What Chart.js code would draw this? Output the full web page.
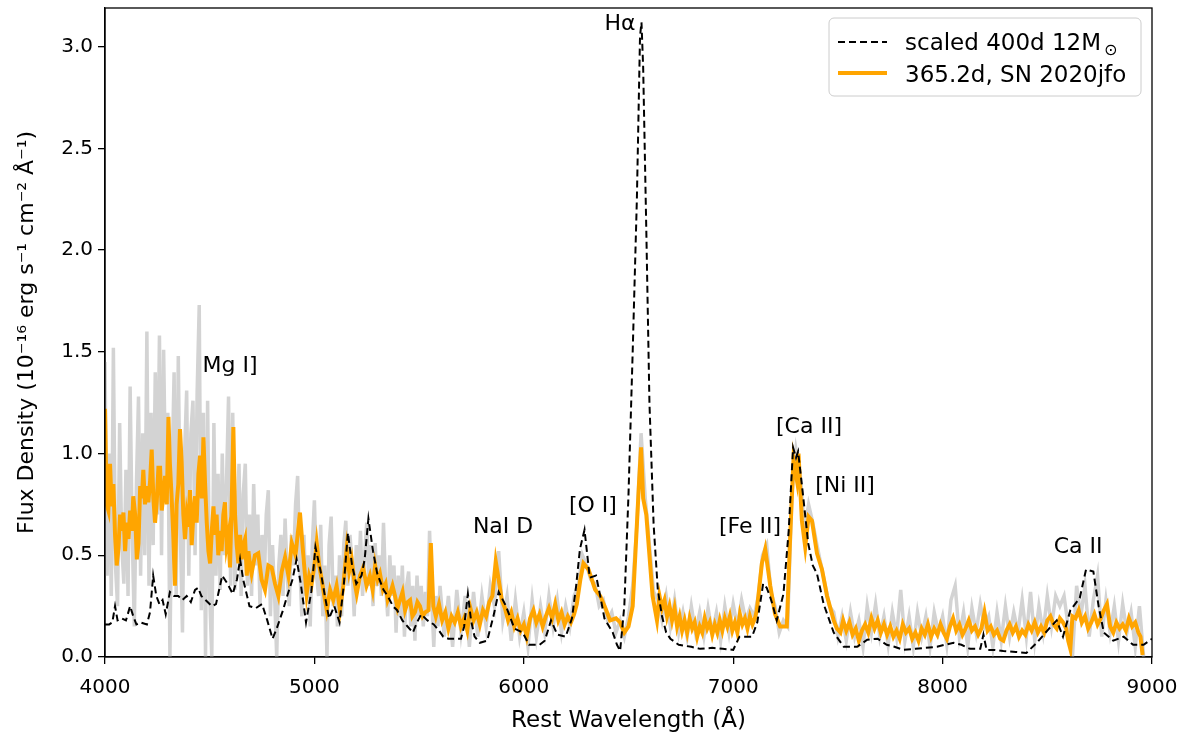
<!DOCTYPE html>
<html>
<head>
<meta charset="utf-8">
<script src="https://cdn.jsdelivr.net/npm/chart.js@4.4.1/dist/chart.umd.min.js"></script>
<style>
  html, body { margin: 0; padding: 0; background: #fff; }
  canvas { display: block; }
</style>
</head>
<body>
<canvas id="spec" width="1188" height="735"></canvas>
<script>
// model spectrum (black dashed), scaled 400d 12 Msun
const modelWave = [4000,4020,4035,4048,4060,4080,4100,4120,4135,4150,4170,4200,4215,4230,4245,4260,4275,4290,4310,4330,
  4350,4370,4390,4410,4430,4445,4460,4480,4510,4530,4560,4585,4610,4630,4645,4660,4690,4720,4750,4775,
  4800,4820,4850,4870,4895,4915,4935,4960,4985,5005,5030,5050,5070,5095,5120,5140,5160,5180,5200,5225,
  5240,5258,5280,5300,5330,5350,5375,5395,5420,5445,5470,5490,5510,5540,5570,5595,5615,5640,5665,5700,
  5715,5733,5748,5765,5790,5825,5855,5880,5915,5955,5995,6025,6075,6100,6130,6160,6200,6230,6250,6268,
  6290,6315,6345,6365,6385,6425,6445,6460,6480,6500,6520,6540,6555,6562,6570,6585,6600,6620,6640,6660,
  6680,6700,6740,6800,6842,6900,6950,7000,7030,7060,7090,7115,7143,7160,7175,7190,7208,7240,7265,7286,
  7300,7310,7334,7358,7380,7400,7432,7480,7528,7592,7640,7690,7733,7770,7812,7870,7920,7973,8010,8053,
  8090,8131,8180,8195,8210,8250,8290,8350,8400,8450,8500,8545,8575,8610,8655,8685,8720,8745,8770,8815,
  8865,8910,8960,9000];
const modelFlux = [0.16,0.16,0.17,0.25,0.18,0.19,0.18,0.25,0.20,0.16,0.17,0.16,0.22,0.40,0.30,0.26,0.28,0.21,0.32,0.30,
  0.30,0.28,0.30,0.27,0.33,0.34,0.30,0.28,0.25,0.26,0.40,0.36,0.31,0.38,0.48,0.38,0.25,0.24,0.26,0.18,
  0.09,0.14,0.23,0.30,0.38,0.48,0.36,0.17,0.32,0.54,0.42,0.30,0.19,0.25,0.17,0.35,0.61,0.45,0.36,0.40,
  0.48,0.68,0.52,0.41,0.33,0.30,0.25,0.23,0.18,0.15,0.12,0.17,0.21,0.18,0.16,0.13,0.10,0.09,0.09,0.09,
  0.15,0.31,0.18,0.10,0.07,0.08,0.20,0.32,0.25,0.14,0.12,0.06,0.06,0.08,0.18,0.11,0.10,0.19,0.35,0.53,
  0.625,0.39,0.40,0.30,0.19,0.12,0.06,0.03,0.25,0.80,1.50,2.25,3.05,3.12,2.90,2.10,1.25,0.65,0.33,0.20,
  0.12,0.09,0.06,0.05,0.04,0.045,0.04,0.035,0.10,0.10,0.10,0.17,0.36,0.34,0.30,0.25,0.18,0.31,0.62,1.03,
  0.98,1.01,0.79,0.56,0.45,0.41,0.26,0.12,0.05,0.05,0.085,0.09,0.06,0.05,0.035,0.04,0.045,0.05,0.06,0.07,
  0.06,0.04,0.04,0.11,0.035,0.035,0.03,0.025,0.02,0.07,0.13,0.18,0.10,0.23,0.29,0.43,0.42,0.25,0.12,0.08,
  0.10,0.06,0.06,0.09];

// SN 2020jfo, 365.2d, smoothed (orange)
const obsWave = [4000,4008,4016,4024,4032,4040,4048,4056,4064,4072,4080,4088,4096,4104,4112,4120,4128,4135,4144,4152,
  4160,4168,4176,4183,4191,4199,4207,4215,4223,4231,4239,4247,4255,4263,4271,4279,4287,4295,4303,4310,
  4318,4326,4334,4342,4350,4358,4366,4374,4382,4390,4398,4406,4414,4422,4430,4438,4446,4454,4462,4470,
  4478,4486,4494,4502,4510,4518,4525,4533,4541,4549,4557,4565,4573,4581,4589,4597,4605,4613,4621,4629,
  4637,4645,4653,4661,4669,4677,4685,4693,4700,
  4716,4732,4748,4764,4780,4796,4812,4828,4844,4860,4876,4892,4910,4931,4947,4963,4975,4987,5000,5011,
  5023,5035,5047,5059,5075,5090,5106,5122,5138,5154,5166,5178,5190,5202,5218,5233,5249,5265,5278,5290,
  5302,5313,5327,5340,5350,5361,5373,5385,5397,5409,5421,5433,5445,5457,5468,5480,5492,5504,5517,5530,
  5545,5556,5568,
  5580,5595,5610,5625,5640,5655,5670,5685,5700,5715,5730,5745,5760,5775,5790,5805,5820,5835,5850,5866,
  5880,5895,5910,5925,5940,5955,5970,5985,6000,6014,6030,6046,6060,6075,6090,6105,6120,6135,6150,6165,
  6180,6195,6210,6225,6240,6253,
  6270,6285,6309,6341,6365,6390,6412,6440,6460,6480,
  6500,6520,6535,6550,6560,6570,6585,6600,6615,
  6636,6648,6660,6672,6684,6696,6708,6720,6732,6744,6756,6768,6780,6792,6804,6816,6828,6840,6852,6864,
  6876,6888,6900,6912,6924,6936,6948,6960,6972,6984,6996,7008,7020,7032,7044,7056,7068,7080,7092,7104,
  7113,
  7137,7153,7177,7200,7224,7256,7272,7288,7304,
  7312,7328,7344,7360,7376,7400,7424,7448,
  7480,7495,7512,7525,7540,7555,7570,7585,7600,7615,7630,7645,7660,7675,7690,7705,7720,7735,7750,7765,
  7780,7795,7810,7825,7840,7855,7870,7885,7900,7915,7930,7945,7960,7975,7990,8005,8020,8035,8050,8065,
  8080,8095,8110,8125,8140,8155,8170,8185,8200,8215,8230,8245,8260,8275,8290,8305,8320,8335,8350,8365,
  8380,8395,8410,8425,8440,8455,8470,8485,8500,8515,8530,8545,8560,8575,8590,8600,8610,8620,8635,8650,
  8665,8680,8695,8710,8725,8740,8755,8770,8785,8800,8815,8830,8845,8860,8875,8890,8905,8920,8935,8945,
  8955];
const obsFlux = [1.22,0.75,0.72,0.95,0.74,0.85,0.60,0.45,0.53,0.70,0.62,0.71,0.52,0.66,0.58,0.72,0.62,0.79,0.70,0.48,
  0.56,0.84,0.78,0.92,0.75,0.84,0.76,0.86,1.02,0.78,0.66,0.76,0.93,0.93,0.72,0.80,0.89,0.75,1.18,0.95,
  0.79,0.60,0.35,0.75,0.85,1.12,0.96,0.70,0.58,0.70,0.64,0.82,0.55,0.70,0.79,0.66,0.90,0.99,0.78,1.08,
  0.85,0.66,0.52,0.46,0.62,0.74,0.60,0.70,0.50,0.62,0.52,0.70,0.76,0.55,0.60,0.44,0.75,1.13,0.70,0.55,
  0.46,0.60,0.48,0.55,0.58,0.40,0.52,0.45,0.41,
  0.50,0.51,0.38,0.33,0.45,0.44,0.36,0.30,0.42,0.49,0.40,0.56,0.50,0.71,0.50,0.31,0.40,0.36,0.45,0.56,
  0.45,0.38,0.30,0.23,0.33,0.28,0.35,0.23,0.35,0.53,0.42,0.48,0.38,0.31,0.40,0.44,0.35,0.40,0.33,0.45,
  0.38,0.41,0.33,0.36,0.28,0.31,0.35,0.30,0.24,0.28,0.32,0.23,0.27,0.28,0.20,0.22,0.27,0.25,0.20,0.22,
  0.23,0.56,0.25,
  0.20,0.26,0.18,0.22,0.14,0.20,0.17,0.22,0.15,0.19,0.13,0.24,0.18,0.22,0.16,0.23,0.20,0.27,0.30,0.47,
  0.38,0.28,0.24,0.18,0.22,0.15,0.19,0.13,0.16,0.10,0.19,0.23,0.17,0.21,0.15,0.20,0.24,0.19,0.26,0.18,
  0.22,0.16,0.20,0.17,0.21,0.26,
  0.38,0.46,0.43,0.33,0.30,0.24,0.18,0.19,0.17,0.12,
  0.15,0.25,0.55,0.85,1.03,0.78,0.70,0.50,0.30,
  0.18,0.30,0.24,0.28,0.20,0.25,0.18,0.24,0.15,0.20,0.13,0.18,0.12,0.19,0.14,0.17,0.10,0.15,0.12,0.19,
  0.14,0.17,0.11,0.16,0.12,0.18,0.13,0.19,0.15,0.20,0.13,0.17,0.12,0.21,0.16,0.19,0.14,0.20,0.16,0.19,
  0.23,
  0.46,0.53,0.35,0.21,0.15,0.15,0.59,0.97,0.87,
  1.00,0.67,0.54,0.69,0.67,0.51,0.43,0.30,
  0.18,0.14,0.12,0.18,0.13,0.17,0.11,0.14,0.08,0.13,0.16,0.12,0.19,0.14,0.18,0.12,0.16,0.11,0.15,0.10,
  0.13,0.09,0.16,0.12,0.14,0.09,0.12,0.08,0.14,0.11,0.16,0.10,0.14,0.11,0.16,0.12,0.09,0.15,0.19,0.13,
  0.16,0.11,0.14,0.18,0.13,0.15,0.11,0.14,0.22,0.13,0.15,0.11,0.13,0.09,0.08,0.13,0.16,0.12,0.15,0.10,
  0.13,0.11,0.16,0.13,0.17,0.12,0.15,0.12,0.18,0.20,0.16,0.14,0.19,0.17,0.14,0.08,0.04,0.20,0.19,0.23,
  0.17,0.20,0.14,0.17,0.21,0.16,0.19,0.23,0.26,0.15,0.12,0.17,0.14,0.16,0.13,0.19,0.15,0.17,0.12,0.10,
  0.01];

// unsmoothed spectrum (light grey)
const rawWave = [4000,4010,4020,4030,4040,4050,4060,4070,4080,4090,4100,4110,4120,4130,4140,4150,4160,4170,4180,4190,
  4200,4210,4220,4230,4240,4250,4260,4270,4280,4290,4300,4310,4320,4330,4340,4350,4360,4370,4380,4390,
  4400,4410,4420,4430,4440,4450,4460,4470,4480,4490,4500,4510,4520,4530,4540,4550,4560,4570,4580,4590,
  4600,4610,4620,4630,4640,4650,4660,4670,4680,4690,4700,4710,4720,4730,4740,4750,4760,4770,4780,4790,
  4800,4810,4820,4830,4840,4850,4860,4870,4880,4890,4900,4910,4920,4930,4940,4950,4960,4970,4980,4990,
  5000,5010,5020,5030,5040,5050,5060,5070,5080,5090,5100,5110,5120,5130,5140,5150,5160,5170,5180,5190,
  5200,5210,5220,5230,5240,5250,5260,5270,5280,5290,5300,5310,5320,5330,5340,5350,5360,5370,5380,5390,
  5400,5410,5420,5430,5440,5450,5460,5470,5480,5490,5500,5510,5520,5530,5540,5550,5560,5570,5580,5590,
  5600,5620,5640,5660,5680,5700,5720,5740,5760,5780,5800,5820,5840,5860,5880,5900,5920,5940,5960,5980,
  6000,6020,6040,6060,6080,6100,6120,6140,6160,6180,6200,6220,6240,6260,6280,6300,6320,6340,6360,6380,
  6400,6420,6440,6460,6480,6500,6520,6540,6560,6580,6600,6620,6640,6660,6680,6700,6720,6740,6760,6780,
  6800,6820,6840,6860,6880,6900,6920,6940,6960,6980,7000,7020,7040,7060,7080,7100,7120,7140,7160,7180,
  7200,7220,7240,7260,7280,7300,7320,7340,7360,7380,7400,7420,7440,7460,7480,7500,7520,7540,7560,7580,
  7600,7620,7640,7660,7680,7700,7720,7740,7760,7780,7800,7820,7840,7860,7880,7900,7920,7940,7960,7980,
  8000,8020,8040,8060,8080,8100,8120,8140,8160,8180,8200,8220,8240,8260,8280,8300,8320,8340,8360,8380,
  8400,8420,8440,8460,8480,8500,8520,8540,8560,8580,8600,8620,8640,8660,8680,8700,8720,8740,8760,8780,
  8800,8820,8840,8860,8880,8900,8920,8940,8960];
const rawFlux = [1.45,0.40,1.00,0.30,1.52,0.45,0.25,1.15,0.55,0.36,0.92,0.30,1.33,0.60,0.15,0.85,1.28,0.40,1.10,0.50,
  1.60,0.35,1.20,0.55,1.40,0.70,1.58,0.50,1.51,0.80,1.20,0.00,0.90,1.40,0.30,1.48,0.60,0.12,1.00,1.31,
  0.40,1.10,1.26,0.50,1.30,1.73,0.23,1.20,0.00,1.26,0.30,0.00,1.15,0.40,0.90,0.33,1.00,0.50,0.85,1.28,
  0.35,1.20,0.33,0.66,0.95,0.30,0.80,0.95,0.35,0.70,0.30,0.85,0.45,0.70,0.25,0.60,0.35,0.70,0.82,0.20,
  0.55,0.30,0.00,0.45,0.60,0.30,0.68,0.40,0.25,0.60,0.45,0.75,0.89,0.45,0.20,0.60,0.30,0.50,0.15,0.55,
  0.77,0.40,0.30,0.65,0.20,0.45,0.00,0.55,0.69,0.25,0.40,0.15,0.50,0.20,0.55,0.67,0.35,0.60,0.45,0.20,
  0.55,0.35,0.62,0.30,0.50,0.66,0.35,0.55,0.25,0.56,0.35,0.50,0.30,0.66,0.35,0.20,0.50,0.30,0.45,0.12,
  0.40,0.20,0.45,0.10,0.35,0.42,0.15,0.35,0.08,0.40,0.20,0.35,0.15,0.32,0.20,0.62,0.30,0.05,0.30,0.15,
  0.35,0.10,0.30,0.05,0.33,0.12,0.30,0.05,0.32,0.10,0.30,0.15,0.35,0.25,0.52,0.18,0.30,0.08,0.28,0.10,
  0.22,0.05,0.28,0.10,0.25,0.12,0.30,0.15,0.28,0.12,0.25,0.15,0.30,0.35,0.50,0.45,0.38,0.36,0.25,0.28,
  0.18,0.22,0.12,0.18,0.10,0.20,0.35,0.65,1.10,0.78,0.55,0.32,0.28,0.18,0.30,0.15,0.28,0.12,0.22,0.10,
  0.25,0.12,0.22,0.10,0.24,0.12,0.22,0.08,0.25,0.12,0.26,0.15,0.28,0.18,0.24,0.20,0.30,0.50,0.55,0.32,
  0.25,0.12,0.18,0.15,0.80,1.02,0.90,0.62,0.75,0.66,0.55,0.45,0.35,0.25,0.22,0.10,0.20,0.08,0.22,0.10,
  0.18,0.05,0.25,0.12,0.26,0.10,0.20,0.06,0.22,0.10,0.33,0.08,0.20,0.05,0.22,0.10,0.20,0.05,0.22,0.12,
  0.20,0.06,0.28,0.35,0.10,0.22,0.05,0.24,0.12,0.26,0.15,0.20,0.05,0.22,0.08,0.25,0.10,0.22,0.12,0.28,
  0.10,0.32,0.08,0.25,0.12,0.30,0.15,0.30,0.25,0.30,0.15,0.00,0.35,0.20,0.35,0.10,0.28,0.40,0.10,0.28,
  0.12,0.25,0.08,0.26,0.12,0.22,0.05,0.25,0.00];

// line identifications
const lineNames = ['Mg I]', 'NaI D', '[O I]', 'H\u03b1', '[Fe II]', '[Ca II]', '[Ni II]', 'Ca II'];
const lineWave  = [4597, 5901, 6330, 6459, 7080, 7362, 7534, 8647];
const lineFlux  = [1.43, 0.64, 0.74, 3.11, 0.64, 1.13, 0.84, 0.54];

const FONT = 'DejaVu Sans';

function pairs(xs, ys) {
  return xs.map((x, i) => ({ x: x, y: ys[i] }));
}

const extras = {
  id: 'extras',
  afterDatasetsDraw(chart) {
    const ctx = chart.ctx;
    const a = chart.chartArea;
    const xs = chart.scales.x, ys = chart.scales.y;
    ctx.save();
    // frame
    ctx.strokeStyle = '#000';
    ctx.lineWidth = 1.3;
    ctx.strokeRect(a.left, a.top, a.right - a.left, a.bottom - a.top);

    // line labels
    ctx.fillStyle = '#000';
    ctx.font = '22px "' + FONT + '"';
    ctx.textAlign = 'center';
    ctx.textBaseline = 'middle';
    lineNames.forEach((t, i) => {
      ctx.fillText(t, xs.getPixelForValue(lineWave[i]), ys.getPixelForValue(lineFlux[i]));
    });

    // legend
    const lx = 829, ly = 18, lw = 312, lh = 78;
    ctx.beginPath();
    ctx.roundRect(lx, ly, lw, lh, 5);
    ctx.fillStyle = 'rgba(255,255,255,0.8)';
    ctx.fill();
    ctx.strokeStyle = '#cccccc';
    ctx.lineWidth = 1;
    ctx.stroke();

    ctx.lineWidth = 2;
    ctx.strokeStyle = '#000';
    ctx.setLineDash([7, 4]);
    ctx.beginPath();
    ctx.moveTo(838, 42); ctx.lineTo(887, 42);
    ctx.stroke();
    ctx.setLineDash([]);
    ctx.strokeStyle = '#ffa500';
    ctx.lineWidth = 4;
    ctx.beginPath();
    ctx.moveTo(838, 73); ctx.lineTo(887, 73);
    ctx.stroke();

    ctx.fillStyle = '#000';
    ctx.textAlign = 'left';
    ctx.textBaseline = 'alphabetic';
    ctx.font = '23px "' + FONT + '"';
    const t1 = 'scaled 400d 12M';
    ctx.fillText(t1, 905, 50);
    const w1 = ctx.measureText(t1).width;
    ctx.font = '16px "' + FONT + '"';
    ctx.fillText('\u2299', 905 + w1 + 3, 55);
    ctx.font = '23px "' + FONT + '"';
    ctx.fillText('365.2d, SN 2020jfo', 905, 82);
    ctx.restore();
  }
};

new Chart(document.getElementById('spec').getContext('2d'), {
  type: 'line',
  data: {
    datasets: [
      {
        label: 'scaled 400d 12M\u2299',
        data: pairs(modelWave, modelFlux),
        borderColor: '#000',
        borderWidth: 2,
        borderDash: [7, 4],
        pointRadius: 0,
        order: 1
      },
      {
        label: '365.2d, SN 2020jfo',
        data: pairs(obsWave, obsFlux),
        borderColor: '#ffa500',
        borderWidth: 4,
        pointRadius: 0,
        order: 2
      },
      {
        label: 'raw',
        data: pairs(rawWave, rawFlux),
        borderColor: '#d3d3d3',
        borderWidth: 3.5,
        pointRadius: 0,
        order: 3
      }
    ]
  },
  options: {
    responsive: false,
    animation: false,
    devicePixelRatio: 1,
    layout: { padding: { left: 0, top: 8, right: 36, bottom: 0 } },
    plugins: {
      legend: { display: false },
      tooltip: { enabled: false }
    },
    scales: {
      x: {
        type: 'linear',
        min: 4000,
        max: 9000,
        afterFit: s => { s.height = 78; s.paddingLeft = 0; s.paddingRight = 0; },
        grid: { drawOnChartArea: false, color: '#000', tickLength: 7, lineWidth: 1.3 },
        border: { display: true, color: '#000', width: 1.3 },
        ticks: {
          stepSize: 1000,
          color: '#000',
          padding: 12,
          maxRotation: 0,
          font: { family: FONT, size: 20 },
          callback: v => String(v)
        },
        title: {
          display: true,
          text: 'Rest Wavelength (\u00c5)',
          color: '#000',
          font: { family: FONT, size: 23 },
          padding: { top: 0, bottom: 0 }
        }
      },
      y: {
        type: 'linear',
        min: 0,
        max: 3.19,
        afterFit: s => { s.width = 105; s.paddingTop = 0; s.paddingBottom = 0; },
        grid: { drawOnChartArea: false, color: '#000', tickLength: 7, lineWidth: 1.3 },
        border: { display: true, color: '#000', width: 1.3 },
        ticks: {
          stepSize: 0.5,
          color: '#000',
          padding: 5,
          font: { family: FONT, size: 20 },
          callback: v => (Math.abs(v * 2 - Math.round(v * 2)) < 1e-6 ? v.toFixed(1) : null)
        },
        title: {
          display: true,
          text: 'Flux Density (10\u207b\u00b9\u2076 erg s\u207b\u00b9 cm\u207b\u00b2 \u00c5\u207b\u00b9)',
          color: '#000',
          font: { family: FONT, size: 22 },
          padding: { top: 14, bottom: 0 }
        }
      }
    }
  },
  plugins: [extras]
});
</script>
</body>
</html>
